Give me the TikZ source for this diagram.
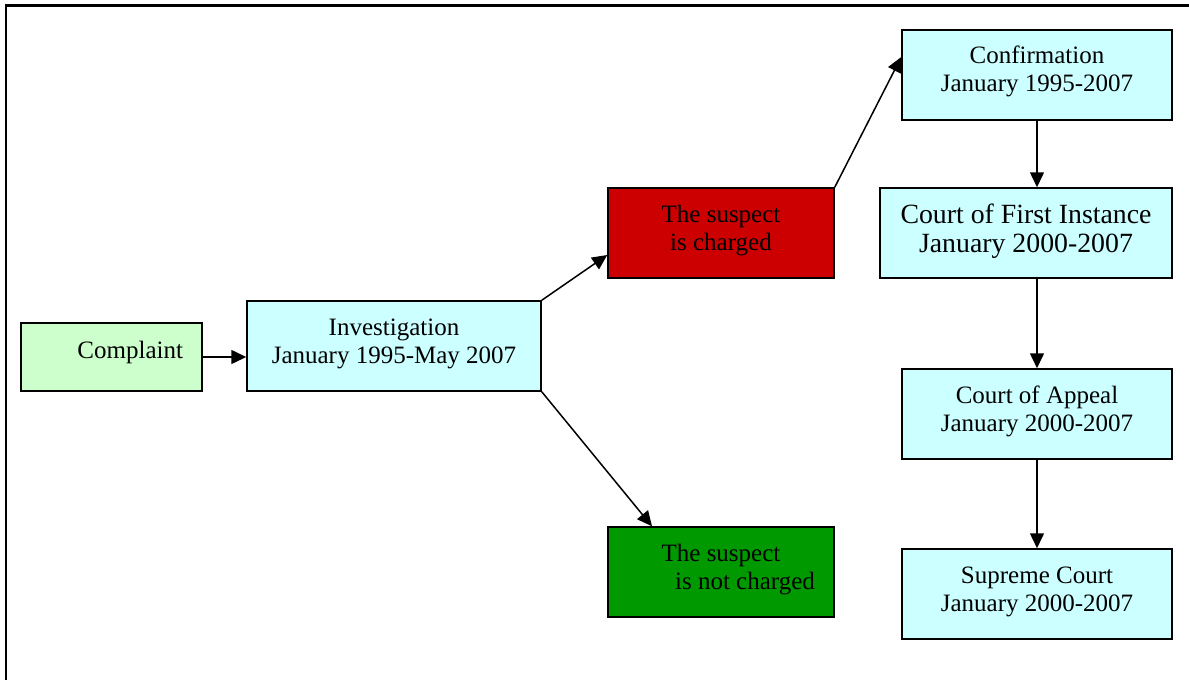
\documentclass[tikz,border=0pt]{standalone}
\usepackage{fontspec}
\setmainfont{Liberation Serif}
\usepackage{xcolor}
\usepackage{tikz}
\usetikzlibrary{arrows.meta}
\definecolor{cyanbox}{RGB}{204,255,255}
\definecolor{complcol}{RGB}{204,255,204}
\definecolor{chargecol}{RGB}{204,0,0}
\definecolor{freecol}{RGB}{0,153,0}

\begin{document}
\begin{tikzpicture}[x=0.5pt, y=-0.5pt,
    every node/.style={font=\fontsize{12.5}{14}\selectfont},
    stage/.style={draw=black, line width=0.75pt, rectangle, align=center,
      inner sep=0pt, minimum height=45pt, text depth=5pt},
    flow/.style={line width=0.75pt, -{Triangle[length=7.5pt,width=7pt]}}]

    \useasboundingbox (0,0) rectangle (1189,680);

    %% page frame (top and left only)
    \draw[line width=1.25pt] (6,680) -- (6,5.5) -- (1189,5.5);

    %% left part
    \node[stage, fill=complcol, minimum height=34pt, text width=71.5pt,
      inner xsep=9.5pt, align=right, text depth=7.5pt] (complaint)
      at (111.5,357) {Complaint};
    \node[stage, fill=cyanbox, minimum width=147pt] (invest) at (394,346)
      {Investigation\\January 1995-May 2007};

    %% outcome of the investigation
    \node[stage, fill=chargecol, minimum width=113pt] (charged) at (721,233)
      {The suspect\\is charged};
    \node[stage, fill=freecol, minimum width=113pt] (nocharge) at (721,572)
      {The suspect\\\hspace*{24pt}is not charged};

    %% courts
    \node[stage, fill=cyanbox, minimum width=135pt, text depth=6pt] (confirm)
      at (1037,75) {Confirmation\\January 1995-2007};
    \node[stage, fill=cyanbox, minimum width=146pt,
      font=\fontsize{13.9}{14.5}\selectfont] (firstinst) at (1026,233)
      {Court of First Instance\\January 2000-2007};
    \node[stage, fill=cyanbox, minimum width=135pt] (appeal) at (1037,414)
      {Court of Appeal\\January 2000-2007};
    \node[stage, fill=cyanbox, minimum width=135pt] (supreme) at (1037,594)
      {Supreme Court\\January 2000-2007};

    %% arrows
    \draw[flow] (complaint.east) -- (complaint.east -| invest.west);
    \draw[flow] (invest.north east) -- ([yshift=-11pt]charged.west);
    \draw[flow] (invest.south east) -- ([xshift=-34.5pt]nocharge.north);
    \draw[flow] (charged.north east) -- ([yshift=9pt]confirm.west);
    \draw[flow] (confirm.south) -- (confirm.south |- firstinst.north);
    \draw[flow] (confirm.south |- firstinst.south) -- (appeal.north);
    \draw[flow] (appeal.south) -- (supreme.north);

  \end{tikzpicture}
\end{document}
